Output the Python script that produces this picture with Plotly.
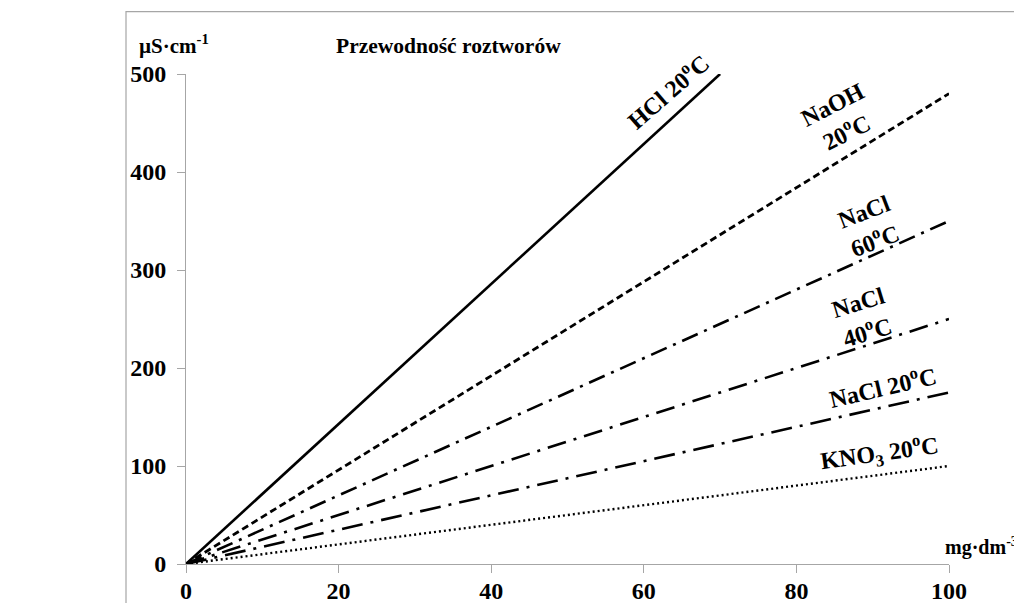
import plotly.graph_objects as go

# Data
series_names = ["HCl 20°C", "NaOH 20°C", "NaCl 60°C", "NaCl 40°C", "NaCl 20°C", "KNO3 20°C"]
x_start = [0, 0, 0, 0, 0, 0]
y_start = [0, 0, 0, 0, 0, 0]
x_end = [70, 100, 100, 100, 100, 100]
y_end = [500, 480, 350, 250, 175, 100]

x_ticks = [0, 20, 40, 60, 80, 100]
y_ticks = [0, 100, 200, 300, 400, 500]

label_texts = ["HCl 20<sup>o</sup>C", "NaOH<br>20<sup>o</sup>C", "NaCl<br>60<sup>o</sup>C",
               "NaCl<br>40<sup>o</sup>C", "NaCl 20<sup>o</sup>C", "KNO<sub>3</sub> 20<sup>o</sup>C"]
label_x = [63.0, 85.7, 89.6, 88.7, 91.3, 90.9]
label_y = [483, 455, 344, 252, 181.5, 113.5]
label_angle = [-41, -27, -21, -17, -13, -8]

styles = [
    dict(dash="solid", width=2.6),
    dict(dash="7px,4px", width=2.8),
    dict(dash="17px,7px,3px,7px", width=2.6),
    dict(dash="19px,8px,3px,8px", width=2.6),
    dict(dash="21px,8px,3px,8px", width=2.6),
    dict(dash="2px,3px", width=2.4),
]

FONT = "Liberation Serif"

fig = go.Figure()
for i, name in enumerate(series_names):
    fig.add_trace(go.Scatter(
        x=[x_start[i], x_end[i]], y=[y_start[i], y_end[i]],
        mode="lines", name=name,
        line=dict(color="black", width=styles[i]["width"], dash=styles[i]["dash"]),
        showlegend=False, hoverinfo="skip",
    ))

for i in range(len(label_texts)):
    fig.add_annotation(x=label_x[i], y=label_y[i], xref="x", yref="y",
                       text=label_texts[i], textangle=label_angle[i], showarrow=False,
                       font=dict(family=FONT, size=24, color="black", weight="bold"))

fig.add_annotation(xref="paper", yref="paper", x=(137 - 186) / 763, y=(564.5 - 44) / 491,
                   xanchor="left", yanchor="middle",
                   text="µS·cm<sup>-1</sup>", showarrow=False,
                   font=dict(family=FONT, size=21, color="black", weight="bold"))
fig.add_annotation(xref="paper", yref="paper", x=(943 - 186) / 763, y=(564.5 - 547) / 491,
                   xanchor="left", yanchor="middle",
                   text="mg·dm<sup>-3</sup>", showarrow=False,
                   font=dict(family=FONT, size=20, color="black", weight="bold"))
fig.add_annotation(xref="paper", yref="paper", x=(448 - 186) / 763, y=(564.5 - 45) / 491,
                   xanchor="center", yanchor="middle",
                   text="Przewodność roztworów", showarrow=False,
                   font=dict(family=FONT, size=21.5, color="black", weight="bold"))

# outer frame
fig.add_shape(type="rect", xref="paper", yref="paper",
              x0=(126 - 186) / 763, x1=1.3, y0=-0.3, y1=(564.5 - 11) / 491,
              line=dict(color="#a6a6a6", width=1.2), fillcolor="rgba(0,0,0,0)", layer="below")

fig.update_xaxes(range=[0, 100], tickvals=x_ticks, showgrid=False, zeroline=False,
                 showline=True, linecolor="#a6a6a6", linewidth=1, automargin=False,
                 ticks="outside", ticklen=8, tickcolor="#a6a6a6", ticklabelstandoff=-3,
                 tickfont=dict(family=FONT, size=24, color="black", weight="bold"))
fig.update_yaxes(range=[0, 500], tickvals=y_ticks, showgrid=False, zeroline=False,
                 showline=True, linecolor="#a6a6a6", linewidth=1, automargin=False,
                 ticks="outside", ticklen=8, tickcolor="#a6a6a6", ticklabelstandoff=6,
                 tickfont=dict(family=FONT, size=24, color="black", weight="bold"))

fig.update_layout(width=1014, height=603, plot_bgcolor="white", paper_bgcolor="white",
                  margin=dict(l=186, r=65, t=73.5, b=38.5), autosize=False)

fig.write_html("out.html", config={"displayModeBar": False},
               post_script="document.body.style.margin='0';document.body.style.overflow='hidden';")
